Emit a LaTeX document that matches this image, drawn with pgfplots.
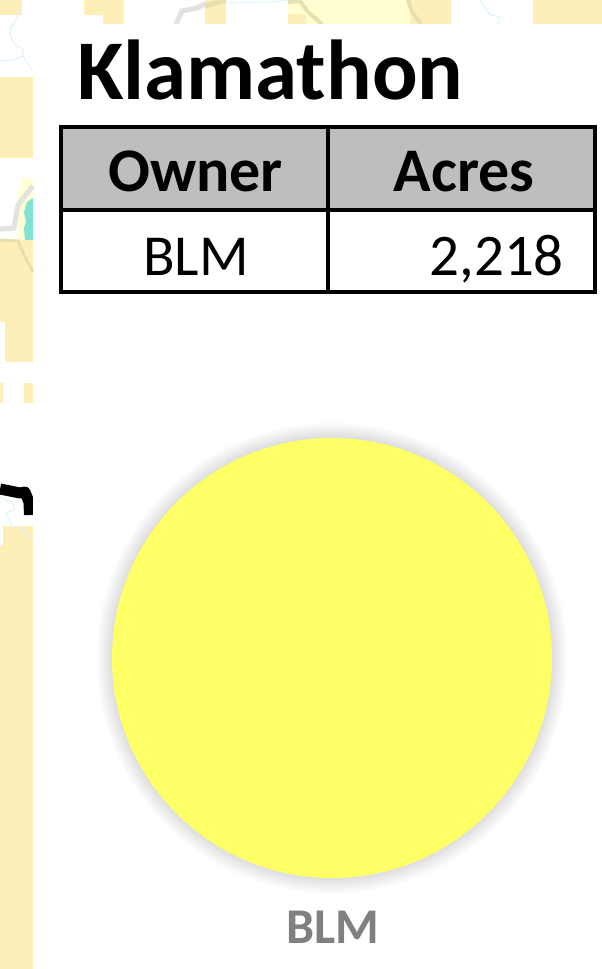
\documentclass[border=0pt]{standalone}
\usepackage{pgfplots}
\pgfplotsset{compat=1.18}
\usepackage{fontspec}
\setmainfont{Carlito}
\definecolor{beige}{HTML}{FEEEB8}
\definecolor{lighty}{HTML}{FFFFD2}
\definecolor{roadg}{HTML}{E2E2E0}
\definecolor{olive}{HTML}{E6DFB0}
\definecolor{stream}{HTML}{DDF3FB}
\definecolor{teal2}{HTML}{7FE3D3}
\definecolor{hdr}{HTML}{BEBEBE}
\definecolor{pie}{HTML}{FFFF66}
\definecolor{lab}{HTML}{808080}
\newcommand{\patch}[5][beige]{\fill[#1] (axis cs:#2,#3) rectangle (axis cs:#4,#5);}
\begin{document}
\begin{tikzpicture}
\begin{axis}[
  hide axis, scale only axis, width=602pt, height=969pt,
  xmin=0, xmax=602, ymin=0, ymax=969, y dir=reverse,
]
\fill[white] (axis cs:0,0) rectangle (axis cs:602,969);
% map background, top strip
\patch{0}{0}{22}{15}
\patch{84}{0}{124}{15}
\patch{103}{15}{124}{24}
\patch{205}{0}{226}{24}
\patch[lighty]{288}{0}{410}{14}
\patch[lighty]{306}{14}{410}{24}
\patch{288}{14}{306}{24}
\patch{410}{0}{451}{24}
\patch{533}{0}{602}{24}
% map background, left strip
\patch{0}{77}{33}{158}
\patch[lighty]{22}{179}{33}{190}
\patch[lighty]{18}{190}{33}{240}
\addplot[fill=teal2, draw=none, forget plot] coordinates {(33,198)(27,202)(24,212)(26,222)(24,228)(25,240)(33,240)} -- cycle;
\patch{0}{240}{33}{322}
\patch{5}{322}{33}{362}
\patch{0}{383}{3}{403}
\patch{24}{383}{33}{403}
\patch{3}{526}{33}{546}
\patch{0}{546}{33}{969}
% map lines
\addplot[roadg, line width=5pt, forget plot] coordinates {(176,24)(182,11)(197,8)(205,4)};
\addplot[olive, line width=5pt, forget plot] coordinates {(205,6)(226,0)};
\addplot[olive, line width=4pt, forget plot] coordinates {(288,2)(300,1)(308,12)(322,24)};
\addplot[olive, line width=4pt, forget plot] coordinates {(408,0)(412,12)(421,24)};
\addplot[stream, line width=1pt, forget plot] coordinates {(226,3)(270,2)(288,0)};
\addplot[stream, line width=1pt, forget plot] coordinates {(480,0)(485,8)(490,15)(500,17)(498,24)};
\addplot[stream, line width=1pt, forget plot] coordinates {(22,8)(14,24)(9,30)};
\addplot[stream, line width=1pt, forget plot] coordinates {(12,22)(10,35)(15,45)(23,49)(23,56)(33,72)};
\addplot[stream, line width=1pt, forget plot] coordinates {(0,61)(12,60)(23,56)};
\addplot[roadg, line width=5pt, forget plot] coordinates {(0,229)(14,228)(18,205)(33,186)};
\addplot[olive, line width=3pt, forget plot] coordinates {(0,240)(18,241)(24,255)(33,272)};
\addplot[stream, line width=1pt, forget plot] coordinates {(0,497)(13,503)(14,510)(6,513)(12,526)(22,529)(33,540)};
\addplot[black, line width=11pt, line join=round, forget plot] coordinates {(0,489)(10,491)(20,493)(25,492)(29,502)(29.5,515)};
\patch[white]{33}{24}{602}{125}
\patch[white]{33}{440}{60}{530}
% title
\node[anchor=base west, inner sep=0pt] at (axis cs:77,99) {\fontsize{85}{85}\selectfont\bfseries Klamathon};
% table
\patch[hdr]{59}{125}{597}{210}
\draw[black, line width=4.5pt] (axis cs:61,127) rectangle (axis cs:595,292);
\draw[black, line width=4.5pt] (axis cs:61,210) -- (axis cs:595,210);
\draw[black, line width=4.5pt] (axis cs:328,127) -- (axis cs:328,292);
\node[anchor=base, inner sep=0pt] at (axis cs:195.5,191) {\fontsize{62}{62}\selectfont\bfseries Owner};
\node[anchor=base, inner sep=0pt] at (axis cs:464,191) {\fontsize{62}{62}\selectfont\bfseries Acres};
\node[anchor=base, inner sep=0pt] at (axis cs:196,275) {\fontsize{58}{58}\selectfont BLM};
\node[anchor=base east, inner sep=0pt] at (axis cs:564,275) {\fontsize{59}{59}\selectfont 2,218};
% pie: a single slice, BLM = 100 %
\pgfplotsinvokeforeach{236,235,234,233,232,231,230,229,228,227,226,225,224,223,222,221}{
  \addplot[only marks, forget plot, mark=*, mark size=#1pt,
    mark options={draw opacity=0, fill=black, fill opacity=0.009}] coordinates {(332,658)};
}
\addplot[only marks, forget plot, mark=*, mark size=220pt,
  mark options={draw opacity=0, fill=pie}] coordinates {(332,658)};
\node[anchor=base, inner sep=0pt, text=lab] at (axis cs:332.5,943) {\fontsize{50}{50}\selectfont\bfseries BLM};
\end{axis}
\end{tikzpicture}
\end{document}
